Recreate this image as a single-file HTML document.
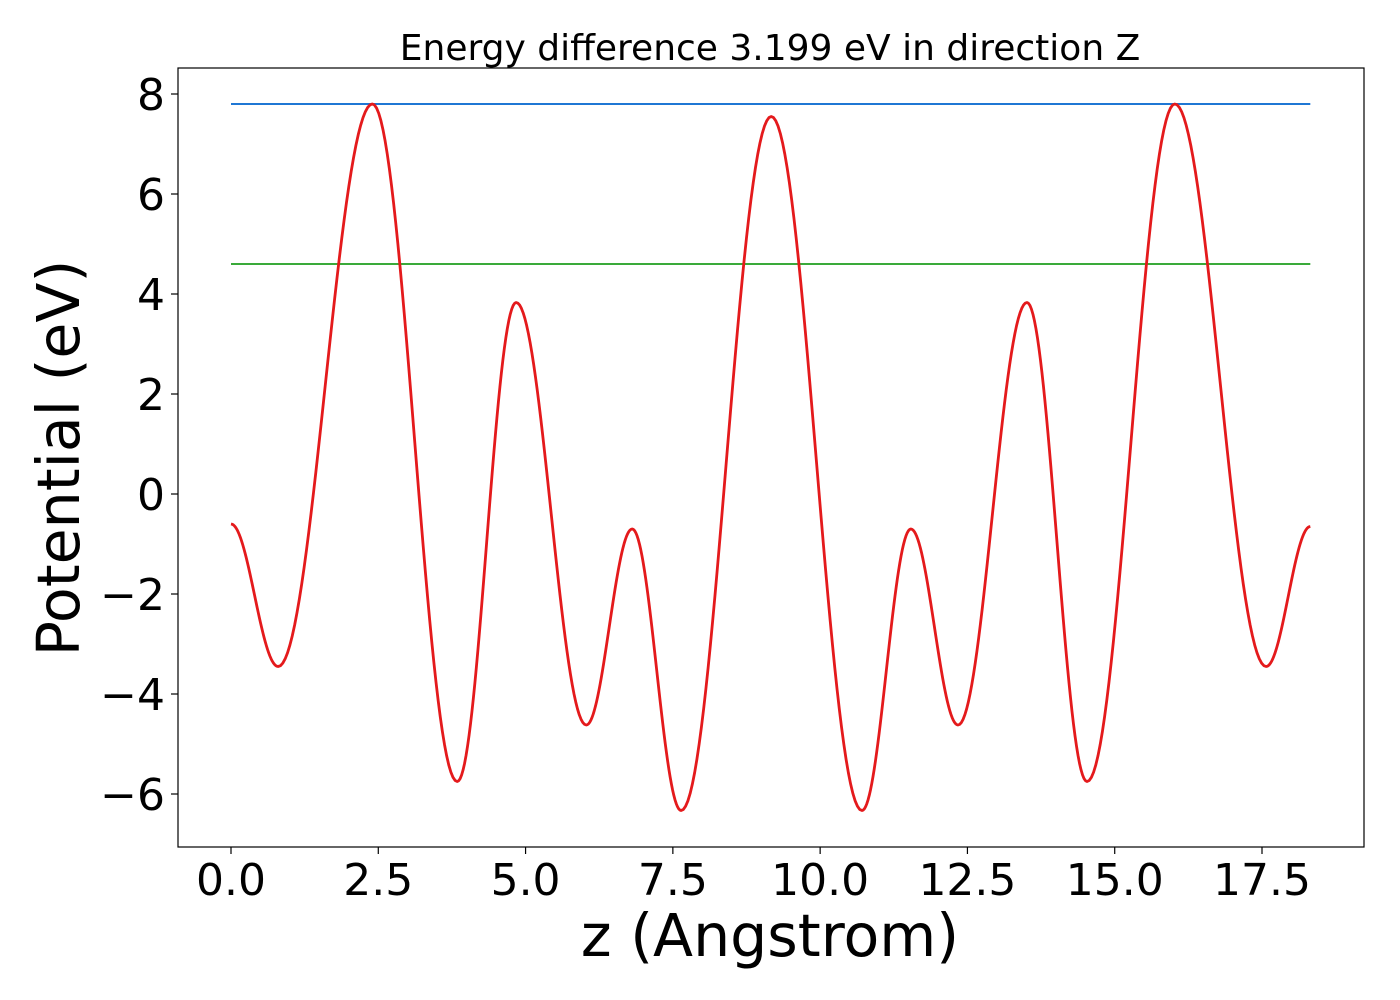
<!DOCTYPE html>
<html><head><meta charset="utf-8"><style>
html,body{margin:0;padding:0;background:#fff;}
svg{display:block;font-family:"DejaVu Sans","Liberation Sans",sans-serif;}
</style></head><body>
<svg id="chart" width="1400" height="1000">
<rect x="0" y="0" width="1400" height="1000" fill="#fff"/>
<text x="770" y="60" font-size="36" text-anchor="middle">Energy difference 3.199 eV in direction Z</text>
<g id="plot"></g>
<g id="xt"></g>
<g id="yt"></g>
<rect x="178" y="68" width="1186" height="779" fill="none" stroke="#000" stroke-width="1.2"/>
<text x="770" y="956" font-size="58.5" text-anchor="middle">z (Angstrom)</text>
<text transform="translate(79,458) rotate(-90)" font-size="58.5" text-anchor="middle">Potential (eV)</text>
</svg>
<script>
const xTicks = [0,2.5,5,7.5,10,12.5,15,17.5];
const xTickLabels = ["0.0","2.5","5.0","7.5","10.0","12.5","15.0","17.5"];
const yTicks = [-6,-4,-2,0,2,4,6,8];
const yTickLabels = ["\u22126","\u22124","\u22122","0","2","4","6","8"];
const blueLevel = 7.8;
const greenLevel = 4.6;
const xRangeMax = 18.32;
const zValues = [0,0.8,2.4,3.84,4.84,6.03,6.81,7.64,9.17,10.71,11.54,12.34,13.51,14.53,16.02,17.57,18.32];
const potentialValues = [-0.6,-3.45,7.8,-5.75,3.83,-4.62,-0.7,-6.33,7.55,-6.33,-0.7,-4.62,3.83,-5.75,7.8,-3.45,-0.65];

const NS="http://www.w3.org/2000/svg";
function sx(v){return 231+(1262-231)/17.5*v;}
function sy(v){return 494-(494-94)/8*v;}
const plot=document.getElementById('plot'), xt=document.getElementById('xt'), yt=document.getElementById('yt');
function mk(tag,attrs,parent){const e=document.createElementNS(NS,tag);for(const k in attrs)e.setAttribute(k,attrs[k]);parent.appendChild(e);return e;}

xTicks.forEach((t,i)=>{
  const l=mk('line',{x1:sx(t),x2:sx(t),y1:847,y2:854,stroke:'#000','stroke-width':1.2},xt);
  
  
  const tx=mk('text',{x:sx(t),y:895,'font-size':44,'text-anchor':'middle'},xt);
  tx.textContent=xTickLabels[i];
  
  
});
yTicks.forEach((t,i)=>{
  const l=mk('line',{x1:171,x2:178,y1:sy(t),y2:sy(t),stroke:'#000','stroke-width':1.2},yt);
  
  
  const tx=mk('text',{x:165,y:sy(t)+16,'font-size':44,'text-anchor':'end'},yt);
  tx.textContent=yTickLabels[i];
  
  
});

const bl=mk('line',{x1:sx(0),x2:sx(xRangeMax),y1:sy(blueLevel),y2:sy(blueLevel),stroke:'#1f77d4','stroke-width':2},plot);


const gl=mk('line',{x1:sx(0),x2:sx(xRangeMax),y1:sy(greenLevel),y2:sy(greenLevel),stroke:'#3aaa3a','stroke-width':2},plot);



// cosine interpolation between successive extrema (smooth, zero slope at extrema)
const n=zValues.length;
let pts=[];
for(let i=0;i<n-1;i++){
  const x0=zValues[i],x1=zValues[i+1],y0=potentialValues[i],y1=potentialValues[i+1];
  const steps=40;
  for(let s=(i==0?0:1);s<=steps;s++){
    const t=s/steps;
    const y=y0+(y1-y0)*(1-Math.cos(Math.PI*t))/2;
    pts.push(sx(x0+t*(x1-x0)).toFixed(2)+','+sy(y).toFixed(2));
  }
}
const pl=mk('polyline',{points:pts.join(' '),fill:'none',stroke:'#e41a1c','stroke-width':2.8,'stroke-linejoin':'round'},plot);


</script>
</body></html>
